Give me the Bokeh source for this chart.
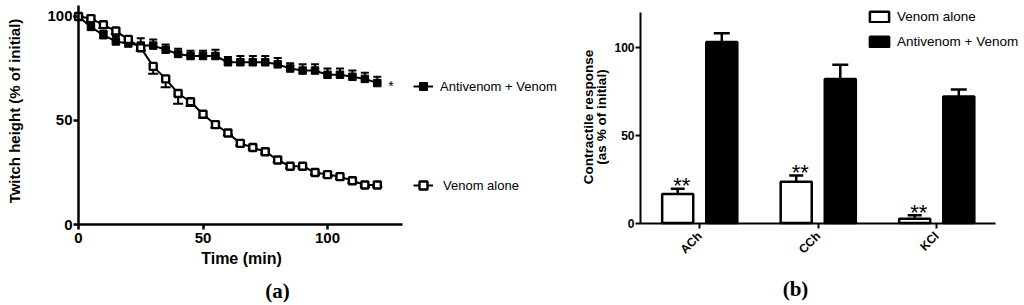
import math
from bokeh.plotting import figure
from bokeh.layouts import row
from bokeh.models import (ColumnDataSource, Whisker, TeeHead, Legend, LegendItem,
                          Label, FixedTicker, Range1d)
from bokeh.core.properties import value
from bokeh.embed import file_html
from bokeh.resources import INLINE

# ---- Panel (a): twitch height over time -------------------------------------
time_min = [0, 5, 10, 15, 20, 25, 30, 35, 40, 45, 50, 55, 60,
            65, 70, 75, 80, 85, 90, 95, 100, 105, 110, 115, 120]
antivenom_mean = [100, 95, 91, 88, 87, 86, 86, 84, 82, 81, 81, 81, 78,
                  78, 78, 78, 77, 75, 74, 74, 72, 72, 71, 70, 68]
antivenom_sem = [0, 2, 2, 2.5, 2, 3.5, 3, 2.5, 2.5, 2.5, 2.5, 3, 2.5,
                 3, 3, 3, 3, 2.5, 3, 3, 3, 3, 3, 3, 3]
venom_mean = [100, 99, 96, 93, 89, 85, 76, 70, 63, 59, 53, 48, 44,
              39, 37, 35, 31, 28, 28, 25, 24, 23, 21, 19, 19]
venom_sem = [0, 1, 1.5, 1.5, 1.5, 1.5, 3.5, 4, 5, 2, 1.5, 1.5, 1,
             1, 1, 1, 1, 1, 1, 1, 1, 1, 1, 1, 1]
time_ticks = [0, 50, 100]
height_ticks = [0, 50, 100]

# ---- Panel (b): contractile responses to agonists ---------------------------
agonists = ["ACh", "CCh", "KCl"]
venom_alone_resp = [16.5, 23.5, 2.5]
venom_alone_err = [3, 3.5, 2]
antivenom_resp = [103, 82, 72]
antivenom_err = [5, 8, 4]
significance = ["**", "**", "**"]
response_ticks = [0, 50, 100]

SANS = "Liberation Sans"
SERIF = "Liberation Serif"


def style_axis(ax, size, width):
    ax.axis_line_width = width
    ax.axis_line_color = "black"
    ax.major_tick_line_width = width
    ax.major_tick_line_color = "black"
    ax.major_tick_out = 5
    ax.major_tick_in = 0
    ax.minor_tick_line_color = None
    ax.major_label_text_font = SANS
    ax.major_label_text_font_style = "bold"
    ax.major_label_text_font_size = size
    ax.major_label_text_color = "black"
    ax.fixed_location = 0


def text_label(x, y, text, size, font=SANS, style="bold", angle=0.0):
    return Label(x=x, y=y, x_units="screen", y_units="screen", text=text, angle=angle,
                 text_font=font, text_font_style=style, text_font_size=size,
                 text_color="black", text_align="center", text_baseline="middle")


# ============================== panel (a) ====================================
# the plotting frame covers the whole figure; axes are pinned at zero
pa = figure(width=560, height=305, x_range=Range1d(-31.33, 193.57),
            y_range=Range1d(-38.94, 107.69), output_backend="svg", toolbar_location=None,
            min_border_left=0, min_border_right=0, min_border_top=0, min_border_bottom=0,
            outline_line_color=None, background_fill_color="white", border_fill_color="white")
pa.grid.visible = False
xa = pa.xaxis[0]
ya = pa.yaxis[0]
style_axis(xa, "15px", 2.5)
style_axis(ya, "15px", 2.5)
xa.ticker = FixedTicker(ticks=time_ticks)
xa.bounds = (0, 130)
xa.major_label_standoff = 3
ya.ticker = FixedTicker(ticks=height_ticks)
ya.bounds = (0, 105.3)
ya.major_label_standoff = 1

av_src = ColumnDataSource(dict(
    t=time_min, y=antivenom_mean,
    top=[m + e for m, e in zip(antivenom_mean, antivenom_sem)]))
ve_src = ColumnDataSource(dict(
    t=time_min, y=venom_mean,
    bot=[m - e for m, e in zip(venom_mean, venom_sem)]))

pa.add_layout(Whisker(source=av_src, base="t", upper="top", lower="y", dimension="height",
                      level="underlay", line_color="black", line_width=2,
                      upper_head=TeeHead(size=8, line_width=2, line_color="black"),
                      lower_head=None))
pa.add_layout(Whisker(source=ve_src, base="t", upper="y", lower="bot", dimension="height",
                      level="underlay", line_color="black", line_width=2,
                      lower_head=TeeHead(size=10, line_width=2, line_color="black"),
                      upper_head=None))

av_line = pa.line("t", "y", source=av_src, line_color="black", line_width=2)
av_pts = pa.scatter("t", "y", source=av_src, marker="square", size=7.5,
                    fill_color="black", line_color="black", line_width=1)
ve_line = pa.line("t", "y", source=ve_src, line_color="black", line_width=2)
ve_pts = pa.scatter("t", "y", source=ve_src, marker="square", size=7,
                    fill_color="white", line_color="black", line_width=2.4)

# significance mark next to the last antivenom point
pa.text(x=[time_min[-1] + 5.5], y=[antivenom_mean[-1] - 1.5], text=["*"],
        text_font=value(SANS), text_font_size="14px", text_color="black",
        text_align="center", text_baseline="middle")

legend_common = dict(glyph_width=20, glyph_height=22, label_height=22, padding=0, margin=0,
                     spacing=0, border_line_color=None, background_fill_alpha=0,
                     label_text_font=SANS, label_text_font_size="13px",
                     label_text_color="black")
pa.add_layout(Legend(items=[LegendItem(label="Antivenom + Venom", renderers=[av_line, av_pts])],
                     location=(413, 208), label_standoff=7, **legend_common))
pa.add_layout(Legend(items=[LegendItem(label="Venom alone", renderers=[ve_line, ve_pts])],
                     location=(413, 109), label_standoff=10, **legend_common))

pa.add_layout(text_label(241, 47.5, "Time (min)", "16px"))
pa.add_layout(text_label(13.5, 194.5, "Twitch height (% of initial)", "15px",
                         angle=math.pi / 2))
pa.add_layout(text_label(277, 15, "(a)", "21px", font=SERIF))

# ============================== panel (b) ====================================
pb = figure(width=464, height=305, x_range=Range1d(-0.675, 3.2405),
            y_range=Range1d(-46.9, 126.6), output_backend="svg", toolbar_location=None,
            min_border_left=0, min_border_right=0, min_border_top=0, min_border_bottom=0,
            outline_line_color=None, background_fill_color="white", border_fill_color="white")
pb.grid.visible = False
xb = pb.xaxis[0]
yb = pb.yaxis[0]
style_axis(xb, "12px", 2)
style_axis(yb, "12px", 2)
centers = [i + 0.5 for i in range(len(agonists))]
xb.ticker = FixedTicker(ticks=centers)
xb.major_label_overrides = {c: name for c, name in zip(centers, agonists)}
xb.bounds = (0, len(agonists))
xb.major_label_orientation = math.pi / 4
xb.major_label_standoff = 6
yb.ticker = FixedTicker(ticks=response_ticks)
yb.bounds = (0, 120)
yb.major_label_standoff = 1

OFF = 0.186
BAR_W = 0.262
b_src = ColumnDataSource(dict(
    xva=[c - OFF for c in centers], xav=[c + OFF for c in centers],
    va=venom_alone_resp, va_top=[v + e for v, e in zip(venom_alone_resp, venom_alone_err)],
    av=antivenom_resp, av_top=[v + e for v, e in zip(antivenom_resp, antivenom_err)],
    star=significance,
    star_y=[v + e + 1.6 for v, e in zip(venom_alone_resp, venom_alone_err)]))

pb.add_layout(Whisker(source=b_src, base="xva", upper="va_top", lower="va",
                      dimension="height", level="underlay", line_color="black",
                      line_width=2.5, lower_head=None,
                      upper_head=TeeHead(size=14, line_width=2.5, line_color="black")))
pb.add_layout(Whisker(source=b_src, base="xav", upper="av_top", lower="av",
                      dimension="height", level="underlay", line_color="black",
                      line_width=2.5, lower_head=None,
                      upper_head=TeeHead(size=16, line_width=2.5, line_color="black")))

r_va = pb.vbar(x="xva", top="va", width=BAR_W, source=b_src,
               fill_color="white", line_color="black", line_width=2.5)
r_av = pb.vbar(x="xav", top="av", width=BAR_W, source=b_src,
               fill_color="black", line_color="black", line_width=2.5)

pb.text(x="xva", y="star_y", text="star", source=b_src, x_offset=4,
        text_font=value(SANS), text_font_size="22px", text_color="black",
        text_align="center", text_baseline="middle")

pb.add_layout(Legend(items=[LegendItem(label="Venom alone", renderers=[r_va]),
                            LegendItem(label="Antivenom + Venom", renderers=[r_av])],
                     location=(307, 256), glyph_width=24, glyph_height=13, label_height=13,
                     spacing=10, label_standoff=6, padding=0, margin=0,
                     border_line_color=None, background_fill_alpha=0,
                     label_text_font=SANS, label_text_font_size="13.5px",
                     label_text_color="black"))

pb.add_layout(text_label(27.5, 188.5, "Contractile response", "13.5px", angle=math.pi / 2))
pb.add_layout(text_label(41, 188.5, "(as % of initial)", "13.5px", angle=math.pi / 2))
pb.add_layout(text_label(235, 17, "(b)", "21px", font=SERIF))

layout = row(pa, pb)
with open("out.html", "w") as f:
    f.write(file_html(layout, INLINE))
